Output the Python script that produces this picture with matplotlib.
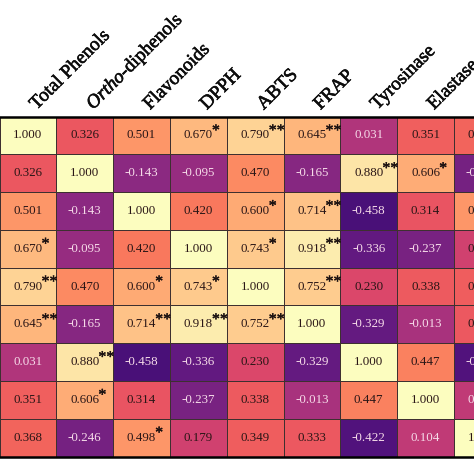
import numpy as np
import matplotlib
matplotlib.use("Agg")
import matplotlib.pyplot as plt
from matplotlib.colors import FuncNorm
import matplotlib.patheffects as pe

plt.rcParams['font.family'] = ['Liberation Serif', 'DejaVu Serif']
plt.rcParams['mathtext.fontset'] = 'custom'
plt.rcParams['mathtext.rm'] = 'Liberation Serif'
plt.rcParams['mathtext.it'] = 'Liberation Serif:italic'

labels = ["Total Phenols", r"$\mathit{Ortho}$-diphenols", "Flavonoids", "DPPH",
          "ABTS", "FRAP", "Tyrosinase", "Elastase", "Hyaluronidase"]

r_tp = [1.000, 0.326, 0.501, 0.670, 0.790, 0.645, 0.031, 0.351, 0.368]
r_od = [0.326, 1.000, -0.143, -0.095, 0.470, -0.165, 0.880, 0.606, -0.246]
r_fl = [0.501, -0.143, 1.000, 0.420, 0.600, 0.714, -0.458, 0.314, 0.498]
r_dp = [0.670, -0.095, 0.420, 1.000, 0.743, 0.918, -0.336, -0.237, 0.179]
r_ab = [0.790, 0.470, 0.600, 0.743, 1.000, 0.752, 0.230, 0.338, 0.349]
r_fr = [0.645, -0.165, 0.714, 0.918, 0.752, 1.000, -0.329, -0.013, 0.333]
r_ty = [0.031, 0.880, -0.458, -0.336, 0.230, -0.329, 1.000, 0.447, -0.422]
r_el = [0.351, 0.606, 0.314, -0.237, 0.338, -0.013, 0.447, 1.000, 0.104]
r_hy = [0.368, -0.246, 0.498, 0.179, 0.349, 0.333, -0.422, 0.104, 1.000]

s_tp = ["", "", "", "*", "**", "**", "", "", ""]
s_od = ["", "", "", "", "", "", "**", "*", ""]
s_fl = ["", "", "", "", "*", "**", "", "", "*"]
s_dp = ["*", "", "", "", "*", "**", "", "", ""]
s_ab = ["**", "", "*", "*", "", "**", "", "", ""]
s_fr = ["**", "", "**", "**", "**", "", "", "", ""]
s_ty = ["", "**", "", "", "", "", "", "", ""]
s_el = ["", "*", "", "", "", "", "", "", ""]
s_hy = ["", "", "*", "", "", "", "", "", ""]

vals = np.array([r_tp, r_od, r_fl, r_dp, r_ab, r_fr, r_ty, r_el, r_hy])
sig = [s_tp, s_od, s_fl, s_dp, s_ab, s_fr, s_ty, s_el, s_hy]
n = len(labels)

# colour scale (magma, slightly stretched in the upper range)
norm_v = [-0.9, 0.33, 0.5, 1.0]
norm_c = [0.0, 0.645, 0.78, 1.0]
norm = FuncNorm((lambda x: np.interp(x, norm_v, norm_c),
                 lambda y: np.interp(y, norm_c, norm_v)), vmin=-0.9, vmax=1.0)

W = H = 474
fig = plt.figure(figsize=(W / 100, H / 100), dpi=100)
x0, cw = -0.5, 56.8
ytop, ybot = 116.5, 456.5
ax = fig.add_axes([x0 / W, (H - ybot) / H, n * cw / W, (ybot - ytop) / H])
ax.set_axis_off()

ax.pcolormesh(np.arange(n + 1) - 0.5, np.arange(n + 1) - 0.5, vals,
              cmap='magma', norm=norm,
              edgecolors='#3e3030', linewidth=0.7)
ax.set_xlim(-0.5, n - 0.5)
ax.set_ylim(n - 0.5, -0.5)

for i in range(n):
    for j in range(n):
        v = vals[i, j]
        col = '#f6dbe9' if v < 0.15 else '#2a1616'
        ax.text(j, i, f"{v:.3f}", ha='center', va='center', fontsize=9.4, color=col)
        if sig[i][j]:
            ax.annotate(sig[i][j], xy=(j + 0.24, i), xytext=(0, 3.2),
                        textcoords='offset points', ha='left', va='center',
                        fontsize=11.5, color='#1a1010',
                        path_effects=[pe.withStroke(linewidth=0.3, foreground='#1a1010')])

for j in range(n):
    ax.annotate(labels[j], xy=(j + 0.15, -0.5), xytext=(0, 4.5),
                textcoords='offset points', ha='left', va='baseline',
                rotation=45, rotation_mode='anchor', fontsize=13.8,
                color='#0d0d0d', annotation_clip=False,
                path_effects=[pe.withStroke(linewidth=0.45, foreground='#0d0d0d')])

fig.add_artist(plt.Line2D([0, 1], [(H - ytop) / H] * 2, color='black', lw=1.8))
fig.add_artist(plt.Line2D([0, 1], [(H - ybot) / H] * 2, color='black', lw=1.8))

fig.savefig("out.png", dpi=100)
